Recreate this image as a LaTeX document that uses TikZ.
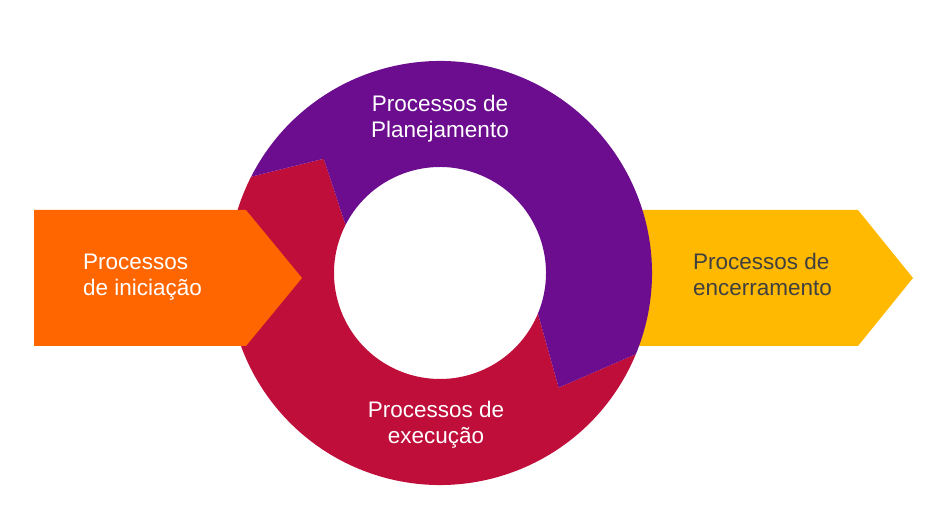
\documentclass[tikz,border=0pt]{standalone}
\usepackage{fontspec}
\setmainfont{Liberation Sans}
\definecolor{cred}{RGB}{192,14,58}
\definecolor{cpurple}{RGB}{107,13,142}
\definecolor{corange}{RGB}{255,102,0}
\definecolor{cyellow}{RGB}{255,185,0}
\definecolor{cdark}{RGB}{64,64,64}
\begin{document}
\begin{tikzpicture}[x=1pt,y=1pt,
  lbl/.style={inner sep=0pt,font=\fontsize{22.5}{26}\selectfont},
  lblw/.style={lbl,text=white},
  lbld/.style={lbl,text=cdark}]
\useasboundingbox (0,0) rectangle (935,530);
% yellow closing arrow (behind ring)
\fill[cyellow] (600,320) -- (858,320) -- (913,252) -- (858,184) -- (600,184) -- cycle;
% ring
\begin{scope}[shift={(440,257)}]
  \coordinate (c) at (0,0);
  \fill[cred] (-22.5:212) arc[start angle=-22.5, end angle=-207, radius=212]
     -- (-224.5:163) -- (-207:106) arc[start angle=-207, end angle=-22.5, radius=106]
     -- (-44:165) -- cycle;
  \fill[cpurple] (153:212) arc[start angle=153, end angle=-22.5, radius=212]
     -- (-44:165) -- (-22.5:106) arc[start angle=-22.5, end angle=153, radius=106]
     -- (135.5:163) -- cycle;
\end{scope}
% orange initiation arrow (on top)
\fill[corange] (34,320) -- (246,320) -- (302,252) -- (246,184) -- (34,184) -- cycle;
% labels (base anchor = baseline of last line)
\node[lblw, anchor=base west, align=left] (ini) at (83,234) {Processos\\de iniciação};
\node[lbld, anchor=base west, align=left] (enc) at (693,234) {Processos de\\encerramento};
\node[lblw, anchor=base, align=center] (pla) at (440,392) {Processos de\\Planejamento};
\node[lblw, anchor=base, align=center] (exe) at (436,86) {Processos de\\execução};
\end{tikzpicture}
\end{document}
